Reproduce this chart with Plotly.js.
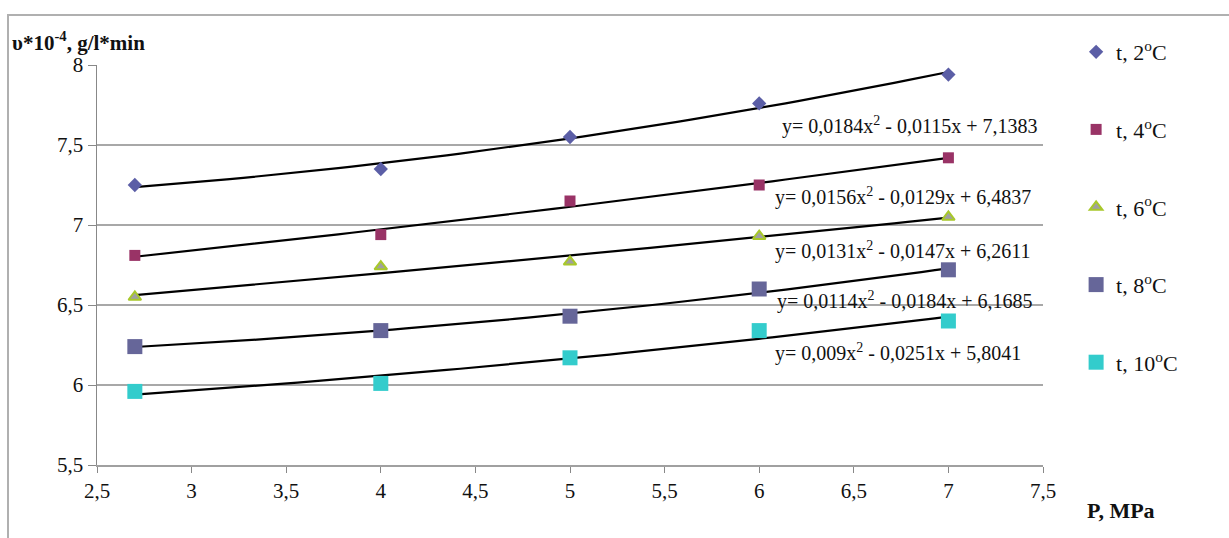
<!DOCTYPE html>
<html>
<head>
<meta charset="utf-8">
<script src="https://cdn.plot.ly/plotly-3.0.1.min.js"></script>
<style>html,body{margin:0;padding:0;background:#fff;}#chart{width:1229px;height:538px;}</style>
</head>
<body>
<div id="chart"></div>
<script>
// Pressure, MPa
const pressure = [2.7, 4, 5, 6, 7];
// Rate v*10^-4, g/l*min, per temperature
const t2 = [7.25, 7.35, 7.55, 7.76, 7.94];
const t4 = [6.81, 6.94, 7.15, 7.25, 7.42];
const t6 = [6.55, 6.74, 6.77, 6.93, 7.05];
const t8 = [6.24, 6.34, 6.43, 6.60, 6.72];
const t10 = [5.96, 6.01, 6.17, 6.34, 6.40];
const seriesNames = ['t, 2<sup>o</sup>C', 't, 4<sup>o</sup>C', 't, 6<sup>o</sup>C', 't, 8<sup>o</sup>C', 't, 10<sup>o</sup>C'];
const equations = [
  'y= 0,0184x<sup>2</sup> - 0,0115x + 7,1383',
  'y= 0,0156x<sup>2</sup> - 0,0129x + 6,4837',
  'y= 0,0131x<sup>2</sup> - 0,0147x + 6,2611',
  'y= 0,0114x<sup>2</sup> - 0,0184x + 6,1685',
  'y= 0,009x<sup>2</sup> - 0,0251x + 5,8041'
];
const xTicks = [2.5, 3, 3.5, 4, 4.5, 5, 5.5, 6, 6.5, 7, 7.5];
const xTickText = ['2,5', '3', '3,5', '4', '4,5', '5', '5,5', '6', '6,5', '7', '7,5'];
const yTicks = [5.5, 6, 6.5, 7, 7.5, 8];
const yTickText = ['5,5', '6', '6,5', '7', '7,5', '8'];

const allSeries = [t2, t4, t6, t8, t10];
const styles = [
  {symbol: 'diamond', size: 11, color: '#5b5ea6', line: {width: 0}},
  {symbol: 'square', size: 11, color: '#993366', line: {width: 0}},
  {symbol: 'triangle-up', size: 11, color: '#a0a0a0', line: {width: 2, color: '#a8c82a'}},
  {symbol: 'square', size: 15, color: '#666699', line: {width: 0}},
  {symbol: 'square', size: 15, color: '#33cccc', line: {width: 0}}
];

// least-squares quadratic fit (trendline, as the spreadsheet computes it)
function quadFit(xs, ys) {
  let S = [0,0,0,0,0], T = [0,0,0];
  for (let i = 0; i < xs.length; i++) {
    let p = 1;
    for (let k = 0; k < 5; k++) { S[k] += p; if (k < 3) T[k] += p * ys[i]; p *= xs[i]; }
  }
  const A = [[S[0],S[1],S[2],T[0]],[S[1],S[2],S[3],T[1]],[S[2],S[3],S[4],T[2]]];
  for (let c = 0; c < 3; c++) {
    for (let r = c + 1; r < 3; r++) {
      const f = A[r][c] / A[c][c];
      for (let k = c; k < 4; k++) A[r][k] -= f * A[c][k];
    }
  }
  const sol = [0,0,0];
  for (let r = 2; r >= 0; r--) {
    let s = A[r][3];
    for (let k = r + 1; k < 3; k++) s -= A[r][k] * sol[k];
    sol[r] = s / A[r][r];
  }
  return sol; // c0, c1, c2
}

const traces = [];
allSeries.forEach((ys, i) => {
  const c = quadFit(pressure, ys);
  const fx = [], fy = [];
  const x0 = pressure[0], x1 = pressure[pressure.length - 1];
  for (let k = 0; k <= 60; k++) {
    const x = x0 + (x1 - x0) * k / 60;
    fx.push(x); fy.push(c[0] + c[1] * x + c[2] * x * x);
  }
  traces.push({x: fx, y: fy, mode: 'lines', line: {color: '#000', width: 2.2}, showlegend: false, hoverinfo: 'skip'});
});
allSeries.forEach((ys, i) => {
  traces.push({x: pressure, y: ys, mode: 'markers', name: seriesNames[i], legendgroup: 'g' + i,
    marker: styles[i]});
});

const serif = '"Liberation Serif", "Times New Roman", serif';
const eqPos = [[780, 125], [773, 197], [773, 250], [775, 300], [773, 352]];
const annotations = equations.map((t, i) => ({
  text: t, xref: 'paper', yref: 'paper',
  x: (eqPos[i][0] - 97) / 946, y: (465 - eqPos[i][1]) / 400,
  xanchor: 'left', yanchor: 'middle', showarrow: false,
  font: {family: serif, size: 20, color: '#111'}
}));
annotations.push({text: '<b>υ*10<sup>-4</sup>, g/l*min</b>', xref: 'paper', yref: 'paper',
  x: (10 - 97) / 946, y: (465 - 42) / 400, xanchor: 'left', yanchor: 'middle', showarrow: false,
  font: {family: serif, size: 21, color: '#111'}});
annotations.push({text: '<b>P, MPa</b>', xref: 'paper', yref: 'paper',
  x: (1085 - 97) / 946, y: (465 - 510) / 400, xanchor: 'left', yanchor: 'middle', showarrow: false,
  font: {family: serif, size: 22, color: '#111'}});

const layout = {
  width: 1229, height: 538,
  font: {family: serif, size: 21, color: '#111'},
  margin: {l: 97, r: 186, t: 65, b: 73},
  paper_bgcolor: '#fff', plot_bgcolor: '#fff',
  showlegend: true,
  legend: {x: 1.035, y: 1.085, xanchor: 'left', yanchor: 'top', tracegroupgap: 46, maxheight: 500,
    font: {family: serif, size: 22, color: '#111'}, bgcolor: 'rgba(0,0,0,0)'},
  xaxis: {range: [2.5, 7.5], tickmode: 'array', tickvals: xTicks, ticktext: xTickText, showgrid: false, zeroline: false,
    showline: true, linecolor: '#a0a0a0', linewidth: 2, ticks: 'outside', ticklen: 6, tickcolor: '#888', tickwidth: 1,
    tickfont: {family: serif, size: 21, color: '#111'}},
  yaxis: {range: [5.5, 8], tickmode: 'array', tickvals: yTicks, ticktext: yTickText, showgrid: true, gridcolor: '#a8a8a8', gridwidth: 1.5,
    zeroline: false, showline: true, linecolor: '#888', linewidth: 1.5, ticks: 'outside', ticklen: 8, tickcolor: '#888',
    tickfont: {family: serif, size: 21, color: '#111'}},
  annotations: annotations,
  shapes: [{type: 'rect', xref: 'paper', yref: 'paper', x0: (8 - 97) / 946, x1: (1240 - 97) / 946,
    y0: (465 - 550) / 400, y1: (465 - 15) / 400, line: {color: '#b0b0b0', width: 2}, fillcolor: 'rgba(0,0,0,0)', layer: 'below'}]
};
Plotly.newPlot('chart', traces, layout, {displayModeBar: false, staticPlot: true});
</script>
</body>
</html>
